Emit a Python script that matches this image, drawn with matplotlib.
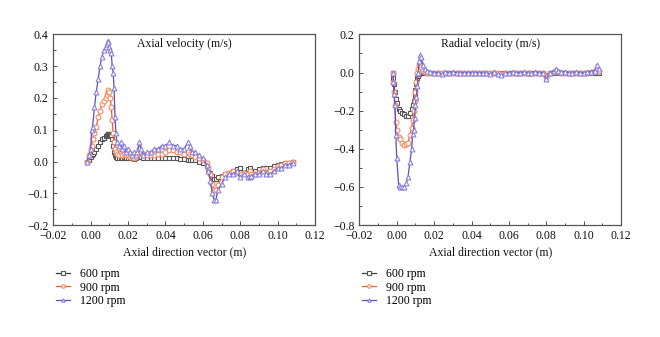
import numpy as np
import matplotlib.pyplot as plt
from matplotlib.ticker import MultipleLocator

plt.rcParams['font.family'] = ['Liberation Serif', 'DejaVu Serif']

# axial velocity (left panel)
x_ax = [-0.002, -0.001, 0.0, 0.0005, 0.001, 0.002, 0.003, 0.004, 0.005, 0.006, 0.007, 0.008,
        0.0085, 0.009, 0.0095, 0.010, 0.0105, 0.011, 0.0115, 0.012, 0.0125, 0.013, 0.0135, 0.014,
        0.015, 0.016, 0.017, 0.018, 0.019, 0.020, 0.021, 0.022, 0.023, 0.024, 0.025, 0.026,
        0.027, 0.028, 0.030, 0.032, 0.034, 0.036, 0.038, 0.040, 0.042, 0.044, 0.046, 0.048,
        0.050, 0.052, 0.053, 0.054, 0.056, 0.058, 0.060, 0.062, 0.063, 0.064, 0.065, 0.066,
        0.067, 0.068, 0.070, 0.072, 0.074, 0.076, 0.078, 0.080, 0.082, 0.084, 0.085, 0.086,
        0.088, 0.090, 0.092, 0.094, 0.096, 0.098, 0.100, 0.102, 0.104, 0.106, 0.108]
ax_600 = [0.0, 0.005, 0.015, 0.02, 0.025, 0.03, 0.04, 0.05, 0.06, 0.07, 0.075, 0.08,
          0.085, 0.087, 0.088, 0.088, 0.085, 0.08, 0.07, 0.05, 0.03, 0.02, 0.015, 0.01,
          0.01, 0.015, 0.012, 0.015, 0.012, 0.01, 0.012, 0.01, 0.008, 0.01, 0.015, 0.02,
          0.015, 0.012, 0.01, 0.012, 0.012, 0.01, 0.012, 0.012, 0.012, 0.01, 0.01, 0.008,
          0.008, 0.006, 0.006, 0.005, 0.004, 0.0, -0.005, -0.015, -0.025, -0.035, -0.045, -0.055,
          -0.055, -0.05, -0.045, -0.04, -0.035, -0.03, -0.025, -0.02, -0.035, -0.025, -0.02, -0.03,
          -0.03, -0.025, -0.02, -0.02, -0.02, -0.015, -0.01, -0.008, -0.005, -0.005, 0.0]
ax_900 = [0.0, 0.02, 0.04, 0.05, 0.07, 0.09, 0.11, 0.14, 0.16, 0.18, 0.19, 0.2,
          0.21, 0.22, 0.225, 0.22, 0.2, 0.17, 0.13, 0.09, 0.06, 0.04, 0.03, 0.025,
          0.02, 0.03, 0.02, 0.025, 0.02, 0.02, 0.015, 0.015, 0.01, 0.015, 0.02, 0.04,
          0.03, 0.02, 0.02, 0.02, 0.02, 0.025, 0.025, 0.03, 0.035, 0.035, 0.03, 0.03,
          0.025, 0.03, 0.025, 0.02, 0.015, 0.01, 0.005, -0.005, -0.02, -0.04, -0.07, -0.09,
          -0.09, -0.075, -0.05, -0.04, -0.035, -0.03, -0.035, -0.04, -0.035, -0.04, -0.03, -0.04,
          -0.04, -0.035, -0.025, -0.035, -0.03, -0.025, -0.015, -0.01, -0.005, -0.005, 0.0]
ax_1200 = [0.0, 0.02, 0.04, 0.1, 0.11, 0.17, 0.22, 0.26, 0.3, 0.33, 0.35, 0.36,
           0.37, 0.38, 0.375, 0.36, 0.35, 0.34, 0.3, 0.28, 0.23, 0.14, 0.09, 0.06,
           0.05, 0.06, 0.04, 0.05, 0.03, 0.04, 0.03, 0.02, 0.03, 0.02, 0.03, 0.06,
           0.04, 0.02, 0.03, 0.03, 0.04, 0.04, 0.05, 0.05, 0.06, 0.05, 0.05, 0.04,
           0.04, 0.06, 0.05, 0.03, 0.03, 0.02, 0.01, -0.01, -0.03, -0.06, -0.1, -0.12,
           -0.12, -0.09, -0.07, -0.05, -0.04, -0.04, -0.03, -0.05, -0.04, -0.05, -0.05, -0.045,
           -0.04, -0.04, -0.03, -0.04, -0.04, -0.03, -0.02, -0.02, -0.01, -0.01, -0.005]

# radial velocity (right panel)
x_rad = [-0.002, -0.0018, -0.0015, -0.001, -0.0005, 0.0, 0.001, 0.002, 0.003, 0.004, 0.005, 0.006,
         0.007, 0.008, 0.0085, 0.009, 0.0095, 0.010, 0.0105, 0.011, 0.0115, 0.012, 0.0125, 0.013,
         0.014, 0.015, 0.016, 0.018, 0.020, 0.022, 0.024, 0.026, 0.028, 0.030, 0.032, 0.034,
         0.036, 0.038, 0.040, 0.042, 0.044, 0.046, 0.048, 0.050, 0.052, 0.054, 0.056, 0.058,
         0.060, 0.062, 0.064, 0.066, 0.068, 0.070, 0.072, 0.074, 0.076, 0.078, 0.080, 0.082,
         0.084, 0.085, 0.086, 0.088, 0.090, 0.092, 0.094, 0.096, 0.098, 0.100, 0.102, 0.104,
         0.106, 0.107, 0.108]
rad_600 = [0.0, -0.03, -0.06, -0.1, -0.14, -0.16, -0.19, -0.2, -0.21, -0.22, -0.23, -0.23,
           -0.21, -0.19, -0.17, -0.15, -0.12, -0.09, -0.06, -0.03, -0.02, -0.01, 0.0, 0.0,
           0.005, 0.0, 0.0, 0.0, 0.0, 0.0, -0.005, 0.0, 0.0, 0.0, 0.0, 0.0,
           0.0, 0.0, 0.0, 0.0, 0.0, 0.0, 0.0, 0.0, 0.0, -0.005, 0.0, 0.0,
           0.0, 0.0, 0.0, 0.0, 0.0, 0.0, 0.0, 0.0, 0.0, 0.0, -0.015, 0.0,
           0.0, 0.005, 0.0, 0.0, 0.0, 0.0, 0.0, 0.0, 0.0, 0.0, 0.0, 0.0,
           0.0, 0.01, 0.0]
rad_900 = [0.0, -0.05, -0.1, -0.17, -0.26, -0.3, -0.34, -0.35, -0.37, -0.38, -0.375, -0.37,
           -0.33, -0.29, -0.25, -0.2, -0.15, -0.1, -0.05, 0.0, 0.02, 0.04, 0.05, 0.03,
           0.01, 0.005, 0.0, 0.0, 0.0, -0.005, 0.0, 0.0, 0.0, 0.0, 0.0, 0.0,
           0.0, 0.0, 0.0, 0.0, 0.0, 0.0, 0.0, -0.005, 0.0, 0.0, -0.01, 0.0,
           0.0, 0.0, 0.0, 0.0, 0.0, 0.0, 0.0, 0.0, 0.0, 0.0, -0.025, 0.0,
           0.005, 0.01, 0.005, 0.0, 0.0, 0.0, 0.0, 0.0, 0.0, 0.0, 0.0, 0.005,
           0.01, 0.02, 0.01]
rad_1200 = [0.0, -0.05, -0.11, -0.17, -0.33, -0.45, -0.59, -0.6, -0.6, -0.6, -0.58, -0.55,
            -0.47, -0.4, -0.32, -0.3, -0.24, -0.17, -0.13, -0.07, 0.0, 0.06, 0.09, 0.08,
            0.04, 0.02, 0.01, 0.005, 0.0, 0.0, -0.01, 0.005, 0.0, 0.005, 0.0, 0.0,
            0.0, 0.0, 0.0, 0.0, 0.0, 0.0, 0.0, -0.01, 0.005, -0.01, -0.015, -0.005,
            0.0, 0.005, 0.0, 0.0, 0.005, 0.0, 0.0, 0.005, 0.0, 0.0, -0.035, 0.0,
            0.01, 0.02, 0.01, 0.005, 0.005, 0.0, 0.0, 0.005, 0.0, 0.0, 0.005, 0.005,
            0.01, 0.04, 0.02]

labels = ['600 rpm', '900 rpm', '1200 rpm']
colors = ['#3a3a3a', '#f05a2a', '#5a4fbf']
mcolors = ['#555555', '#f58a60', '#8c80d8']
markers = ['s', 'o', '^']

fig = plt.figure(figsize=(6.6, 3.37), dpi=100)
ax1 = fig.add_axes([0.0808, 0.332, 0.3965, 0.566])
ax2 = fig.add_axes([0.5445, 0.332, 0.3965, 0.566])

panels = [
    (ax1, x_ax, [ax_600, ax_900, ax_1200], 'Axial velocity (m/s)', (-0.2, 0.4), 0.1),
    (ax2, x_rad, [rad_600, rad_900, rad_1200], 'Radial velocity (m/s)', (-0.8, 0.2), 0.2),
]

for ax, xs, series, title, ylim, ystep in panels:
    for ys, lab, c, mc, m in zip(series, labels, colors, mcolors, markers):
        ax.plot(xs, ys, color=c, lw=0.9, marker=m, ms=3.5, mfc='white',
                mec=mc, mew=0.8, label=lab)
    ax.set_xlim(-0.02, 0.12)
    ax.set_ylim(*ylim)
    ax.xaxis.set_major_locator(MultipleLocator(0.02))
    ax.xaxis.set_minor_locator(MultipleLocator(0.01))
    ax.yaxis.set_major_locator(MultipleLocator(ystep))
    ax.yaxis.set_minor_locator(MultipleLocator(ystep / 2))
    ax.xaxis.set_major_formatter(plt.FuncFormatter(lambda v, p: f'{v:.2f}'.replace('-', '\u2212')))
    ax.yaxis.set_major_formatter(plt.FuncFormatter(lambda v, p: f'{v:.1f}'.replace('-', '\u2212')))
    ax.tick_params(direction='in', which='both', labelsize=8.5, colors='#333333',
                   labelcolor='#111111', width=0.6)
    ax.tick_params(which='major', length=3)
    ax.tick_params(which='minor', length=1.8)
    for s in ax.spines.values():
        s.set_color('#555555')
        s.set_linewidth(0.9)
    ax.text(0.5, 0.95, title, transform=ax.transAxes, ha='center', va='center',
            fontsize=8.5, color='#111111')
    ax.set_xlabel('Axial direction vector (m)', fontsize=8.5, color='#111111', labelpad=3)
    ax.legend(loc='upper left', bbox_to_anchor=(-0.03, -0.17), frameon=False, fontsize=8.5,
              handlelength=1.2, handletextpad=0.8, labelspacing=0.12, markerscale=0.7)

fig.savefig('out.png', dpi=100)
